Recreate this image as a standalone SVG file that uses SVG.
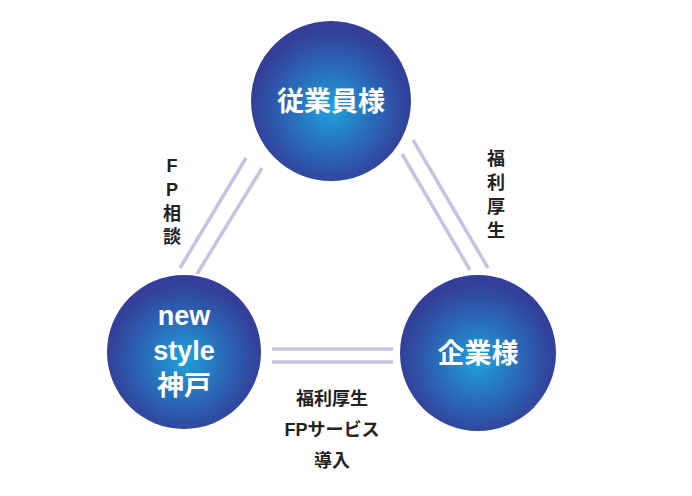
<svg xmlns="http://www.w3.org/2000/svg" width="692" height="496" viewBox="0 0 692 496">
<style>
.n{fill:url(#g)}
.t{fill:#fff;font-family:"Liberation Sans","Noto Sans CJK JP",sans-serif;font-weight:bold;font-size:27px;text-anchor:middle}
.l{fill:#222;font-family:"Liberation Sans","Noto Sans CJK JP",sans-serif;font-weight:bold;font-size:18px;text-anchor:middle}
.c line{stroke:#c4c4e2;stroke-width:3.5}
</style>
<defs>
<radialGradient id="g" cx="0.5" cy="0.55" r="0.5">
<stop offset="0" stop-color="#1fa2dc"/>
<stop offset="0.55" stop-color="#2a68b8"/>
<stop offset="1" stop-color="#333f98"/>
</radialGradient>
</defs>
<rect width="692" height="496" fill="#fff"/>
<g class="c">
<line x1="246" y1="158" x2="180" y2="268"/>
<line x1="262" y1="168" x2="197" y2="274"/>
<line x1="413" y1="140" x2="488" y2="268"/>
<line x1="402" y1="154" x2="470" y2="270"/>
<line x1="272" y1="349" x2="393" y2="349"/>
<line x1="272" y1="362" x2="393" y2="362"/>
</g>
<g id="employee"><circle class="n" cx="331" cy="101" r="80"/><text class="t" x="331" y="111">従業員様</text></g>
<g id="newstyle"><circle class="n" cx="184" cy="352" r="77"/><text class="t" x="184" y="325">new</text><text class="t" x="184" y="360">style</text><text class="t" x="184" y="395">神戸</text></g>
<g id="company"><circle class="n" cx="478" cy="353" r="78"/><text class="t" x="478" y="363">企業様</text></g>
<text class="l" x="172" y="172">F</text>
<text class="l" x="172" y="196">P</text>
<text class="l" x="172" y="220">相</text>
<text class="l" x="172" y="243">談</text>
<text class="l" x="496" y="165">福</text>
<text class="l" x="496" y="189">利</text>
<text class="l" x="496" y="213">厚</text>
<text class="l" x="496" y="237">生</text>
<text class="l" x="332" y="405">福利厚生</text>
<text class="l" x="332" y="436">FPサービス</text>
<text class="l" x="332" y="467">導入</text>
</svg>
